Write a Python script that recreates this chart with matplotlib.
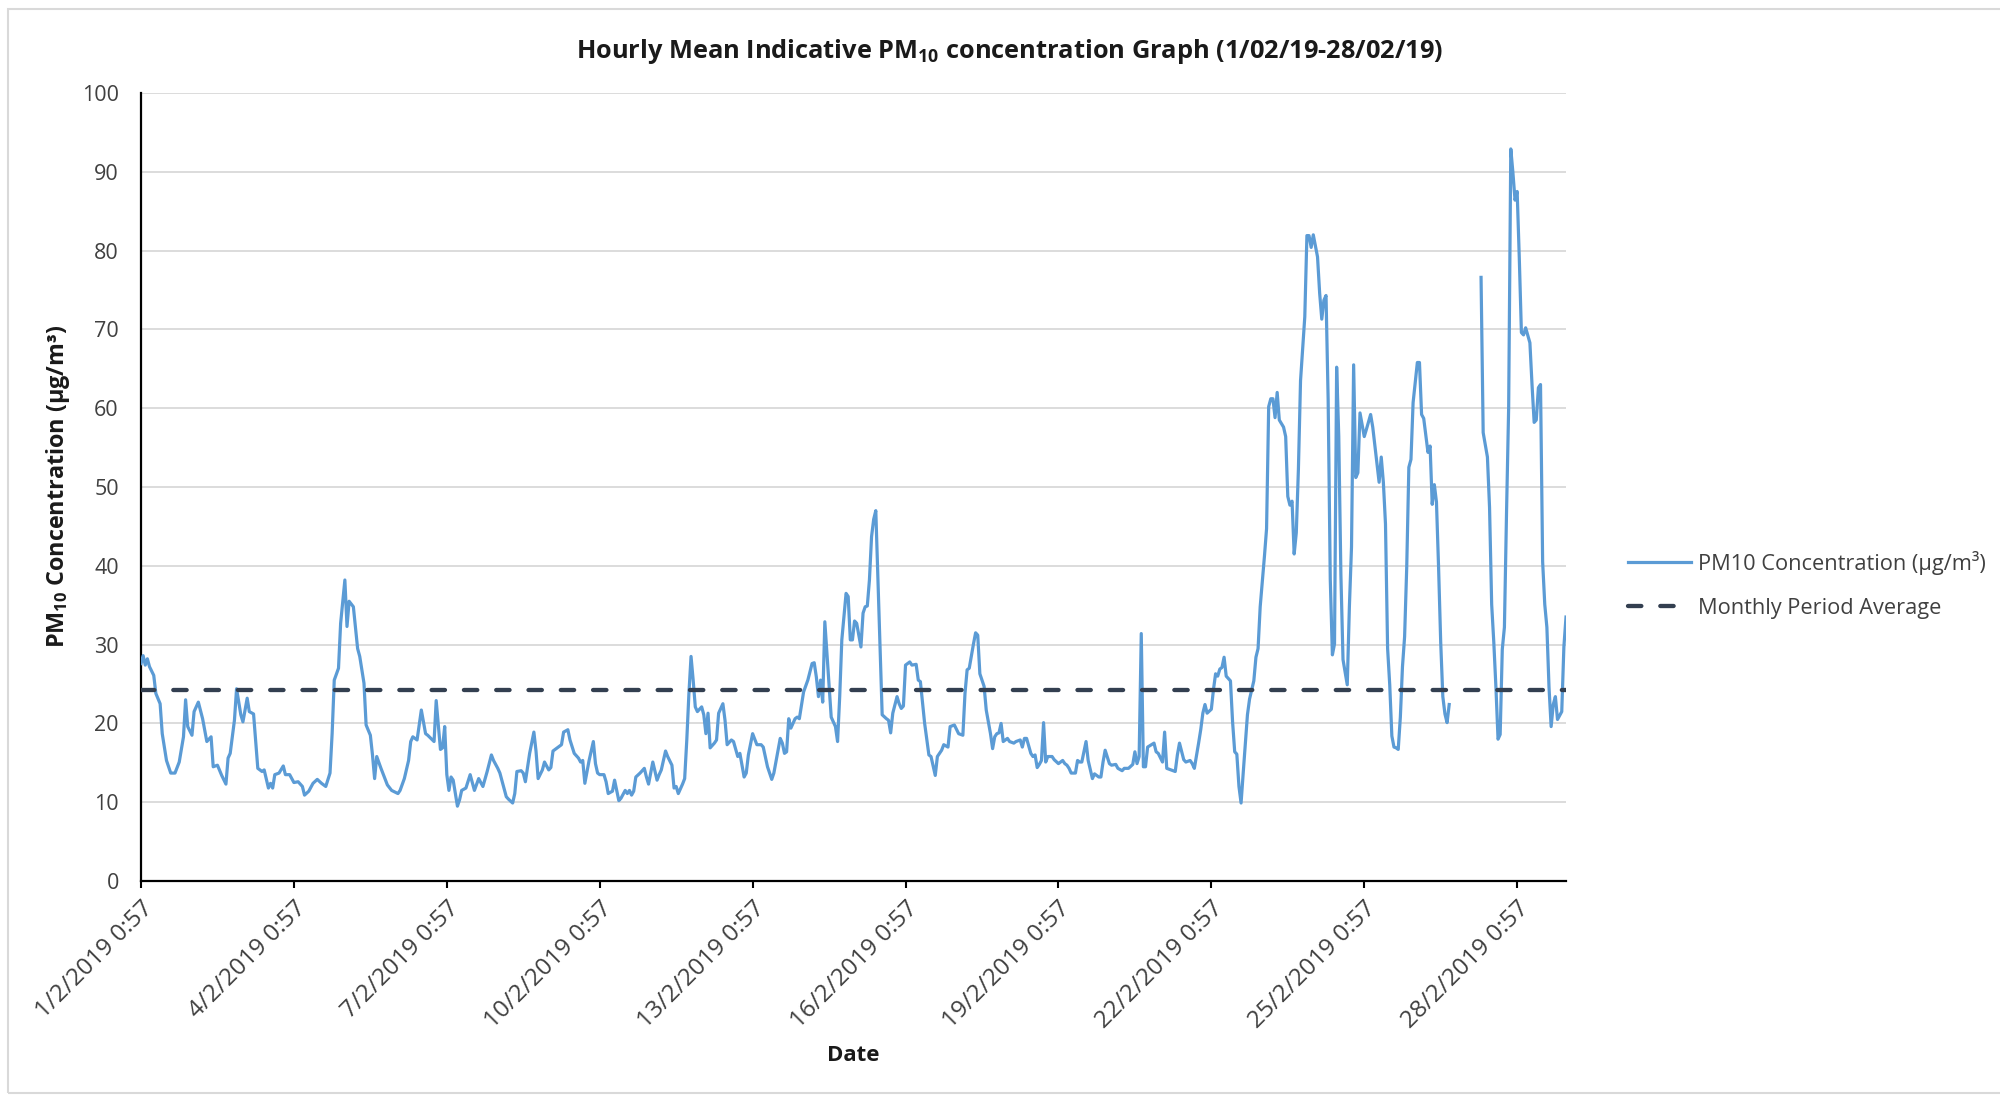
import numpy as np
import matplotlib
matplotlib.use("Agg")
import matplotlib.pyplot as plt
from matplotlib.patches import Rectangle

plt.rcParams['font.family'] = ['Open Sans', 'DejaVu Sans']
plt.rcParams['mathtext.fontset'] = 'custom'
plt.rcParams['mathtext.rm'] = 'Open Sans'
plt.rcParams['mathtext.bf'] = 'Open Sans:bold'

# =====================================================
# DATA
# hours after 1/2/2019 0:57, hourly mean PM10 (ug/m3)
# None = no reading (gap on 26/2)
# =====================================================

hours = [
    0, 1, 2, 3, 4, 6, 7, 9, 10, 12, 14, 16, 18, 20, 21, 22, 24, 25, 27, 29,
    31, 33, 34, 36, 38, 40, 41, 42, 44, 45, 47, 48, 50, 51, 53, 55, 57, 58, 60, 61,
    62, 63, 65, 67, 68, 70, 72, 74, 76, 77, 79, 81, 83, 85, 87, 89, 90, 91, 93, 94,
    96, 97, 98, 100, 102, 103, 105, 106, 108, 109, 110, 111, 113, 116, 118, 121, 122, 124, 126, 127,
    128, 130, 132, 134, 135, 138, 139, 141, 142, 143, 144, 145, 146, 147, 149, 150, 151, 153, 155, 157,
    159, 161, 163, 165, 166, 168, 169, 172, 173, 175, 176, 177, 179, 180, 181, 183, 185, 186, 187, 189,
    190, 192, 193, 194, 196, 198, 199, 201, 202, 204, 206, 207, 208, 209, 211, 213, 214, 215, 216, 218,
    219, 220, 222, 223, 225, 226, 228, 229, 230, 231, 232, 233, 235, 237, 238, 239, 240, 241, 243, 244,
    245, 247, 248, 250, 251, 252, 253, 255, 256, 257, 258, 259, 260, 261, 262, 264, 265, 266, 267, 268,
    270, 271, 272, 274, 275, 276, 278, 279, 281, 282, 284, 285, 286, 288, 290, 292, 293, 295, 297, 298,
    301, 302, 303, 304, 305, 306, 308, 309, 310, 312, 314, 316, 317, 318, 319, 320, 321, 322, 323, 324,
    325, 327, 328, 329, 330, 332, 333, 334, 335, 336, 337, 339, 340, 341, 342, 343, 344, 345, 346, 347,
    348, 349, 351, 352, 353, 354, 356, 357, 358, 359, 360, 362, 363, 365, 366, 367, 369, 371, 372, 374,
    375, 377, 378, 380, 381, 383, 385, 387, 388, 389, 390, 392, 393, 394, 395, 397, 398, 400, 401, 402,
    403, 404, 405, 406, 408, 409, 411, 412, 414, 415, 416, 417, 419, 420, 421, 422, 423, 424, 425, 426,
    427, 429, 430, 432, 434, 435, 436, 437, 438, 440, 441, 442, 443, 445, 446, 448, 449, 451, 452, 453,
    454, 456, 457, 459, 460, 462, 463, 465, 467, 468, 469, 470, 471, 472, 473, 474, 477, 478, 479, 481,
    482, 483, 485, 487, 488, 489, 491, 492, 494, 495, 496, 498, 499, 500, 501, 502, 504, 505, 506, 507,
    508, 509, 510, 511, 513, 514, 515, 516, 517, 518, 519, 521, 522, 524, 525, 526, 527, 529, 530, 531,
    532, 533, 534, 535, 536, 538, 539, 540, 541, 542, 543, 544, 545, 546, 548, 549, 550, 551, 552, 554,
    555, 556, 557, 558, 559, 560, 561, 562, 563, 564, 565, 566, 568, 569, 570, 571, 572, 573, 574, 576,
    577, 579, 580, 582, 583, 584, 585, 586, 587, 588, 589, 590, 591, 592, 593, 594, 595, 596, 597, 598,
    599, 601, 602, 603, 604, 606, 607, 608, 609, 610, 611, 612, 613, 614, 615, 616, 623, 631, 632, 634,
    635, 636, 637, 638, 639, 640, 641, 642, 643, 644, 645, 646, 647, 648, 649, 650, 651, 652, 654, 655,
    656, 657, 658, 659, 660, 661, 662, 663, 664, 665, 666, 667, 669, 670, 671,
]

pm10 = [
    27.6, 28.6, 27.4, 28.2, 27.2, 26.1, 23.8, 22.5, 18.7, 15.3, 13.7, 13.7, 15.1, 18.3, 23.0, 19.6, 18.5, 21.5, 22.7, 20.6,
    17.7, 18.3, 14.5, 14.7, 13.4, 12.3, 15.6, 16.2, 20.4, 24.4, 21.1, 20.2, 23.2, 21.5, 21.2, 14.3, 13.9, 14.1, 11.8, 12.4,
    11.8, 13.5, 13.7, 14.6, 13.5, 13.5, 12.5, 12.6, 12.0, 10.9, 11.4, 12.4, 12.9, 12.4, 12.0, 13.7, 18.7, 25.5, 27.0, 32.7,
    38.2, 32.3, 35.5, 34.8, 29.5, 28.5, 25.1, 19.8, 18.5, 16.0, 13.0, 15.8, 14.3, 12.2, 11.5, 11.1, 11.5, 13.0, 15.3, 17.7,
    18.3, 17.9, 21.7, 18.7, 18.5, 17.7, 22.9, 16.7, 16.9, 19.6, 13.5, 11.5, 13.2, 12.8, 9.5, 10.3, 11.5, 11.8, 13.5, 11.5,
    13.0, 12.0, 13.9, 16.0, 15.3, 14.3, 13.7, 10.7, 10.4, 9.9, 11.1, 13.9, 14.0, 13.7, 12.6, 16.2, 18.9, 16.5, 13.0, 14.1,
    15.1, 14.1, 14.4, 16.5, 16.9, 17.3, 18.9, 19.2, 17.9, 16.2, 15.6, 15.1, 15.3, 12.4, 15.3, 17.7, 14.9, 13.7, 13.5, 13.5,
    12.6, 11.1, 11.4, 12.8, 10.2, 10.5, 11.5, 11.1, 11.5, 10.9, 11.4, 13.2, 13.7, 14.3, 13.2, 12.3, 13.7, 15.1, 12.8, 13.5,
    14.1, 16.5, 15.8, 14.7, 11.8, 12.0, 11.1, 12.3, 13.0, 17.9, 23.8, 28.5, 25.5, 22.1, 21.5, 22.1, 21.1, 18.7, 21.3, 16.9,
    17.5, 17.9, 21.3, 22.5, 20.4, 17.3, 17.9, 17.7, 15.8, 16.2, 13.2, 13.7, 16.0, 18.7, 17.3, 17.3, 17.0, 14.5, 12.9, 13.7,
    18.1, 17.5, 16.2, 16.4, 20.6, 19.4, 20.6, 20.8, 20.6, 24.0, 25.5, 27.6, 27.7, 25.9, 23.4, 25.5, 22.7, 32.9, 28.9, 24.7,
    20.8, 19.6, 17.7, 23.4, 30.6, 36.5, 36.1, 30.6, 30.6, 33.0, 32.7, 29.7, 34.0, 34.8, 34.9, 38.2, 43.7, 45.9, 47.0, 38.2,
    29.7, 21.1, 20.6, 20.4, 18.8, 21.3, 23.4, 22.5, 21.9, 22.2, 27.4, 27.8, 27.4, 27.5, 25.5, 25.3, 20.0, 16.0, 15.8, 13.4,
    15.8, 16.6, 17.3, 17.0, 19.6, 19.8, 18.7, 18.5, 23.8, 26.8, 27.0, 30.1, 31.5, 31.2, 26.3, 24.7, 21.7, 18.7, 16.8, 18.3,
    18.7, 18.8, 20.0, 17.7, 18.1, 17.7, 17.5, 17.7, 17.9, 17.0, 18.1, 18.1, 16.2, 15.8, 16.0, 14.4, 14.8, 15.3, 20.1, 15.1,
    15.8, 15.8, 15.4, 14.9, 15.3, 14.9, 14.7, 14.3, 13.7, 13.7, 15.3, 15.1, 15.1, 17.7, 15.3, 13.0, 13.6, 13.2, 13.2, 15.1,
    16.6, 14.9, 14.7, 14.8, 14.3, 14.0, 14.3, 14.3, 14.8, 16.4, 14.9, 15.8, 31.4, 14.5, 14.5, 17.0, 17.5, 16.4, 16.2, 15.1,
    18.9, 14.3, 14.1, 13.9, 16.0, 17.5, 15.4, 15.1, 15.3, 14.9, 14.3, 17.5, 19.2, 21.3, 22.4, 21.3, 21.8, 24.3, 26.3, 26.0,
    26.9, 27.1, 28.4, 26.0, 25.4, 20.2, 16.4, 16.1, 12.0, 9.9, 13.7, 21.1, 23.1, 25.4, 28.4, 29.5, 34.8, 41.2, 44.7, 60.2,
    61.2, 61.2, 58.8, 62.0, 58.5, 57.6, 56.4, 48.8, 47.7, 48.2, 41.5, 44.2, 52.3, 63.5, 71.6, 81.9, 81.9, 80.4, 82.0, 79.2,
    74.6, 71.3, 73.7, 74.3, 61.1, 38.3, 28.7, 30.1, 65.2, 56.4, 38.9, 28.1, 24.9, 34.8, 42.4, 65.5, 51.2, 51.8, 59.4, 56.4,
    57.3, 59.2, 57.6, 52.9, 50.6, 53.8, 50.6, 45.3, 29.5, 24.9, 18.4, 17.0, 16.9, 16.7, 20.8, 27.2, 31.0, 39.8, 52.5, 53.5,
    60.7, 65.8, 65.8, 59.2, 58.7, 54.4, 55.2, 47.8, 50.3, 48.1, 39.8, 30.3, 23.4, 21.2, 20.1, 22.4, None, 76.6, 56.9, 53.8,
    47.4, 35.1, 30.3, 24.6, 18.0, 18.6, 29.4, 32.2, 46.8, 60.1, 92.9, 89.9, 86.4, 87.5, 79.1, 69.6, 69.3, 70.2, 68.3, 63.0,
    58.2, 58.5, 62.6, 63.0, 40.5, 35.1, 32.2, 24.6, 19.6, 22.4, 23.4, 20.5, 21.5, 29.7, 33.5,
]

monthly_avg = 24.3

tick_days = [1, 4, 7, 10, 13, 16, 19, 22, 25, 28]
tick_labels = [f"{d}/2/2019 0:57" for d in tick_days]

# =====================================================
# FIGURE
# =====================================================

fig = plt.figure(figsize=(20, 10.95), dpi=100)
ax = fig.add_axes([0.0705, 0.1954, 0.7125, 0.7197])

x = np.array(hours)
y = np.array(pm10, dtype=float)

conc_line, = ax.plot(x, y, color="#5B9BD5", lw=2.3, solid_joinstyle="round",
                     label="PM10 Concentration (µg/m³)", zorder=3)
avg_line = ax.axhline(monthly_avg, color="#333F50", lw=3.1,
                      linestyle=(0, (3.1, 4.4)), dash_capstyle="round",
                      label="Monthly Period Average", zorder=4)

ax.set_xlim(0, 671)
ax.set_ylim(0, 100)
ax.set_yticks(np.arange(0, 101, 10))
ax.set_xticks([(d - 1) * 24 for d in tick_days])
ax.set_xticklabels(tick_labels, rotation=45, ha="right", rotation_mode="anchor")

ax.grid(axis="y", color="#D9D9D9", lw=1.3)
ax.set_axisbelow(True)
for side in ["top", "right"]:
    ax.spines[side].set_visible(False)
for side in ["left", "bottom"]:
    ax.spines[side].set_color("black")
    ax.spines[side].set_linewidth(1.6)

ax.tick_params(axis="y", length=0, pad=16, labelsize=15.5, labelcolor="#404040")
ax.tick_params(axis="x", length=5, width=1.5, direction="out", pad=6,
               labelsize=17.5, labelcolor="#404040")

fig.text(0.505, 0.953,
         "Hourly Mean Indicative PM$_\\mathbf{10}$ concentration Graph (1/02/19-28/02/19)",
         ha="center", va="center", fontsize=18.3, fontweight="bold", color="#1a1a1a")
fig.text(0.029, 0.556, "PM$_\\mathbf{10}$ Concentration (µg/m³)",
         rotation=90, ha="center", va="center", fontsize=16.8, fontweight="bold",
         color="#1a1a1a")
fig.text(0.4265, 0.0365, "Date", ha="center", va="center", fontsize=16,
         fontweight="bold", color="#1a1a1a")

fig.legend(handles=[conc_line, avg_line], loc="center left",
           bbox_to_anchor=(0.814, 0.4658), frameon=False, fontsize=15.7,
           handlelength=2.9, handletextpad=0.3, borderaxespad=0, borderpad=0,
           labelspacing=1.05, labelcolor="#404040")

# chart area border
fig.patches.append(Rectangle((0.004, 0.0018), 1.0, 0.99, transform=fig.transFigure,
                             fill=False, edgecolor="#D9D9D9", lw=1.5))

fig.savefig("out.png", dpi=100)
